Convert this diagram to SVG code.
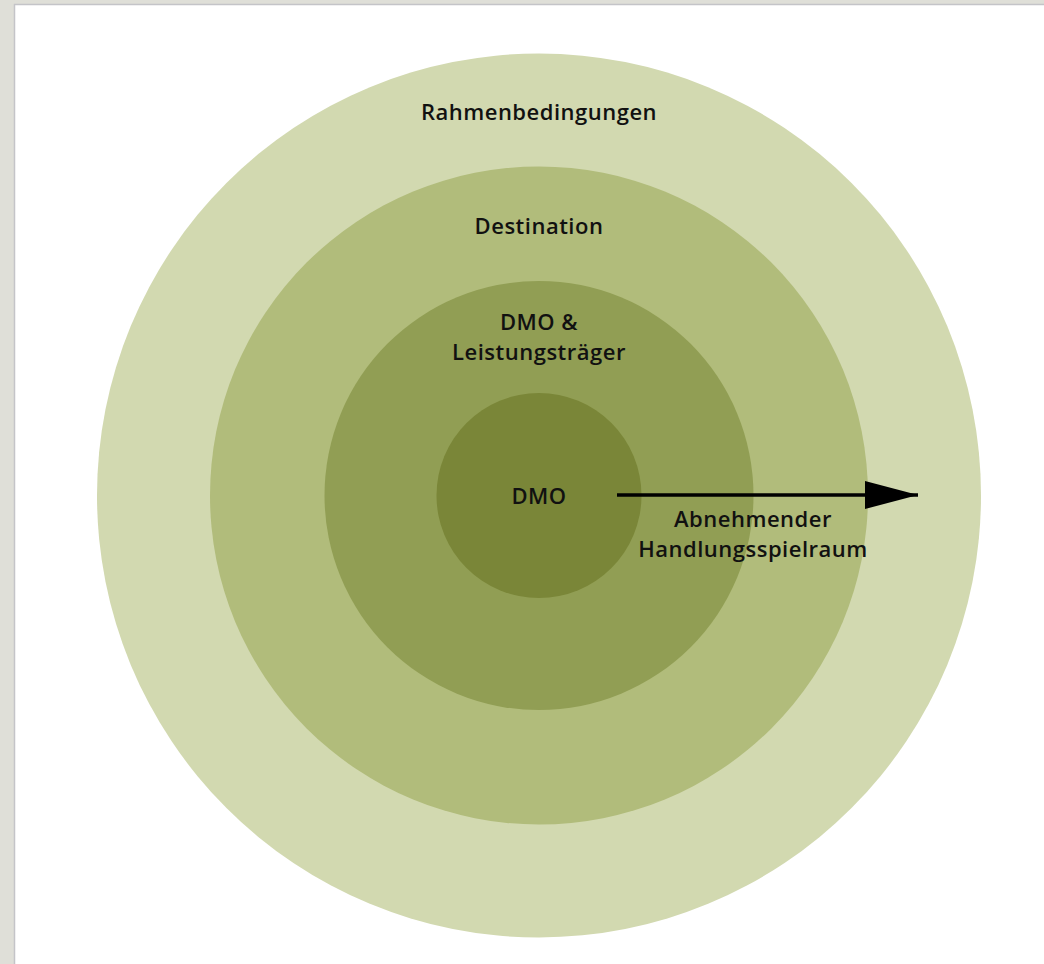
<svg xmlns="http://www.w3.org/2000/svg" width="1044" height="964" viewBox="0 0 1044 964">
<style>
.t{font-family:"Open Sans","Noto Sans","Liberation Sans",sans-serif;font-weight:600;font-size:22px;letter-spacing:0.5px;fill:#111;text-anchor:middle}
</style>
<defs>
<marker id="ah" markerUnits="userSpaceOnUse" markerWidth="54" markerHeight="30" refX="53" refY="14" orient="auto">
<polygon points="0,0 53,14 0,28" fill="#000"/>
</marker>
</defs>
<rect x="0" y="0" width="1044" height="964" fill="#dfdfd8"/>
<rect x="14.5" y="4.5" width="1040" height="970" fill="#fff" stroke="#c4c4c8" stroke-width="1.5"/>
<g id="rahmen"><circle cx="539" cy="495.5" r="442" fill="#d2d9b0"/><text class="t" x="539" y="120">Rahmenbedingungen</text></g>
<g id="destination"><circle cx="539" cy="495.5" r="329" fill="#b1bc7b"/><text class="t" x="539" y="234">Destination</text></g>
<g id="dmo-leistung"><circle cx="539" cy="495.5" r="214.5" fill="#919e54"/><text class="t" x="539" y="330">DMO &amp;</text><text class="t" x="539" y="360">Leistungsträger</text></g>
<g id="dmo"><circle cx="539" cy="495.5" r="102.5" fill="#7a8638"/><text class="t" x="539" y="504">DMO</text></g>
<g id="connectors"><line x1="617" y1="495" x2="918" y2="495" stroke="#000" stroke-width="3.5" marker-end="url(#ah)"/></g>
<g id="label"><text class="t" x="753" y="527">Abnehmender</text><text class="t" x="753" y="557">Handlungsspielraum</text></g>
</svg>
